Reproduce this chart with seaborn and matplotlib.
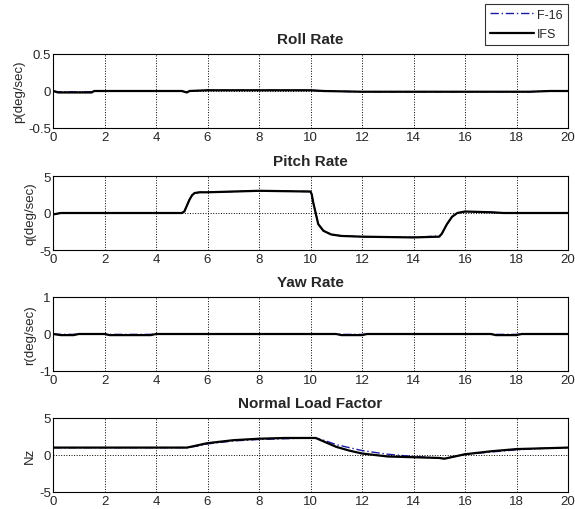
import numpy as np
import pandas as pd
import matplotlib.pyplot as plt
import seaborn as sns

# tiempo (s) y respuestas
t_roll = [0, 0.2, 1.5, 1.6, 5.0, 5.2, 5.3, 6.0, 10.0, 10.5, 12.0, 16.0, 18.5, 19.3, 20]
p_ifs = [0.0, -0.02, -0.02, 0.0, 0.0, -0.02, 0.0, 0.01, 0.01, 0.0, -0.01, -0.01, -0.01, 0.0, 0.0]
p_f16 = [0.0, -0.01, -0.01, 0.0, 0.0, -0.01, 0.0, 0.01, 0.01, 0.0, -0.01, -0.01, -0.01, 0.0, 0.0]

t_pitch = [0, 0.3, 5.0, 5.1, 5.2, 5.3, 5.4, 5.5, 5.7, 6.0, 8.0, 10.0, 10.05, 10.1, 10.2,
           10.3, 10.5, 10.8, 11.2, 12.0, 14.0, 15.0, 15.1, 15.3, 15.5, 15.7, 16.0, 17.0, 17.5, 20]
q_ifs = [-0.2, 0.0, 0.0, 0.2, 1.0, 1.8, 2.4, 2.7, 2.8, 2.8, 3.0, 2.9, 2.5, 1.5, 0.0,
         -1.5, -2.4, -2.9, -3.1, -3.2, -3.3, -3.2, -2.8, -1.5, -0.5, 0.0, 0.2, 0.1, 0.0, 0.0]
q_f16 = [-0.2, 0.0, 0.0, 0.2, 1.0, 1.8, 2.4, 2.7, 2.8, 2.8, 3.0, 2.9, 2.5, 1.5, 0.0,
         -1.5, -2.4, -2.9, -3.1, -3.2, -3.3, -3.1, -2.8, -1.5, -0.5, 0.0, 0.2, 0.1, 0.0, 0.0]

t_yaw = [0, 0.3, 0.8, 1.0, 2.0, 2.2, 3.8, 4.0, 11.0, 11.2, 12.0, 12.2, 17.0, 17.2, 18.0, 18.2, 20]
r_ifs = [0.0, -0.03, -0.03, 0.0, 0.0, -0.03, -0.03, 0.0, 0.0, -0.03, -0.03, 0.0, 0.0, -0.03, -0.03, 0.0, 0.0]
r_f16 = [0.0, -0.01, -0.01, 0.0, 0.0, -0.01, -0.01, 0.0, 0.0, -0.01, -0.01, 0.0, 0.0, -0.01, -0.01, 0.0, 0.0]

t_nz = [0, 5.2, 5.6, 6.0, 7.0, 8.0, 9.0, 10.0, 10.2, 10.6, 11.0, 11.5, 12.0, 13.0, 14.0,
        15.0, 15.2, 15.6, 16.0, 17.0, 18.0, 19.0, 20]
nz_ifs = [1.0, 1.0, 1.3, 1.6, 2.0, 2.2, 2.3, 2.3, 2.3, 1.7, 1.1, 0.6, 0.2, -0.2, -0.3,
          -0.4, -0.5, -0.2, 0.1, 0.5, 0.8, 0.9, 1.0]
nz_f16 = [1.0, 1.0, 1.2, 1.5, 1.9, 2.1, 2.2, 2.3, 2.3, 1.9, 1.4, 1.0, 0.6, 0.1, -0.2,
          -0.4, -0.5, -0.2, 0.1, 0.4, 0.7, 0.9, 1.0]

titulos = ['Roll Rate', 'Pitch Rate', 'Yaw Rate', 'Normal Load Factor']
etiquetas_y = ['p(deg/sec)', 'q(deg/sec)', 'r(deg/sec)', 'Nz']
limites_y = [(-0.5, 0.5), (-5, 5), (-1, 1), (-5, 5)]
ticks_y = [[-0.5, 0, 0.5], [-5, 0, 5], [-1, 0, 1], [-5, 0, 5]]
etiquetas_ticks_y = [['-0.5', '0', '0.5'], ['-5', '0', '5'], ['-1', '0', '1'], ['-5', '0', '5']]

series = [
    (t_roll, p_f16, p_ifs),
    (t_pitch, q_f16, q_ifs),
    (t_yaw, r_f16, r_ifs),
    (t_nz, nz_f16, nz_ifs),
]

sns.set_theme(style='white')
plt.rcParams['font.family'] = ['Liberation Sans', 'DejaVu Sans']
plt.rcParams['xtick.direction'] = 'in'
plt.rcParams['ytick.direction'] = 'in'

fig = plt.figure(figsize=(5.75, 5.1), dpi=100)
izq, ancho = 53 / 575, (568 - 53) / 575
alto = 74
cajas = [55, 177, 298, 419]

for i, (t, f16, ifs) in enumerate(series):
    arriba = cajas[i]
    ax = fig.add_axes([izq, 1 - (arriba + alto) / 510, ancho, alto / 510])
    df = pd.DataFrame({'t': t, 'f16': f16, 'ifs': ifs})
    sns.lineplot(data=df, x='t', y='f16', ax=ax, color='#1a1aa0', lw=1.0,
                 linestyle=(0, (6, 2, 1, 2)), label='F-16', legend=False)
    sns.lineplot(data=df, x='t', y='ifs', ax=ax, color='black', lw=1.6,
                 label='IFS', legend=False)
    ax.set_xlim(0, 20)
    ax.set_ylim(*limites_y[i])
    ax.set_xticks(range(0, 21, 2))
    ax.set_yticks(ticks_y[i])
    ax.set_yticklabels(etiquetas_ticks_y[i])
    ax.tick_params(labelsize=9.5, length=3, color='black', pad=1.5)
    ax.tick_params(axis='x', pad=2.5)
    ax.grid(True, color='black', linestyle=':', linewidth=0.7)
    ax.set_axisbelow(True)
    for s in ax.spines.values():
        s.set_color('black')
        s.set_linewidth(0.8)
    ax.set_title(titulos[i], fontsize=11, fontweight='bold', pad=8)
    ax.set_xlabel('')
    ax.set_ylabel(etiquetas_y[i], fontsize=9.5, labelpad=2)
    if i == 0:
        leg = ax.legend(loc='lower right', bbox_to_anchor=(1.0, 1.12), fontsize=9,
                        frameon=True, fancybox=False, edgecolor='black',
                        handlelength=3.5, borderpad=0.4, labelspacing=0.6,
                        handletextpad=0.3, borderaxespad=0)
        leg.get_frame().set_linewidth(0.8)

fig.savefig('out.png', dpi=100, facecolor='white')
